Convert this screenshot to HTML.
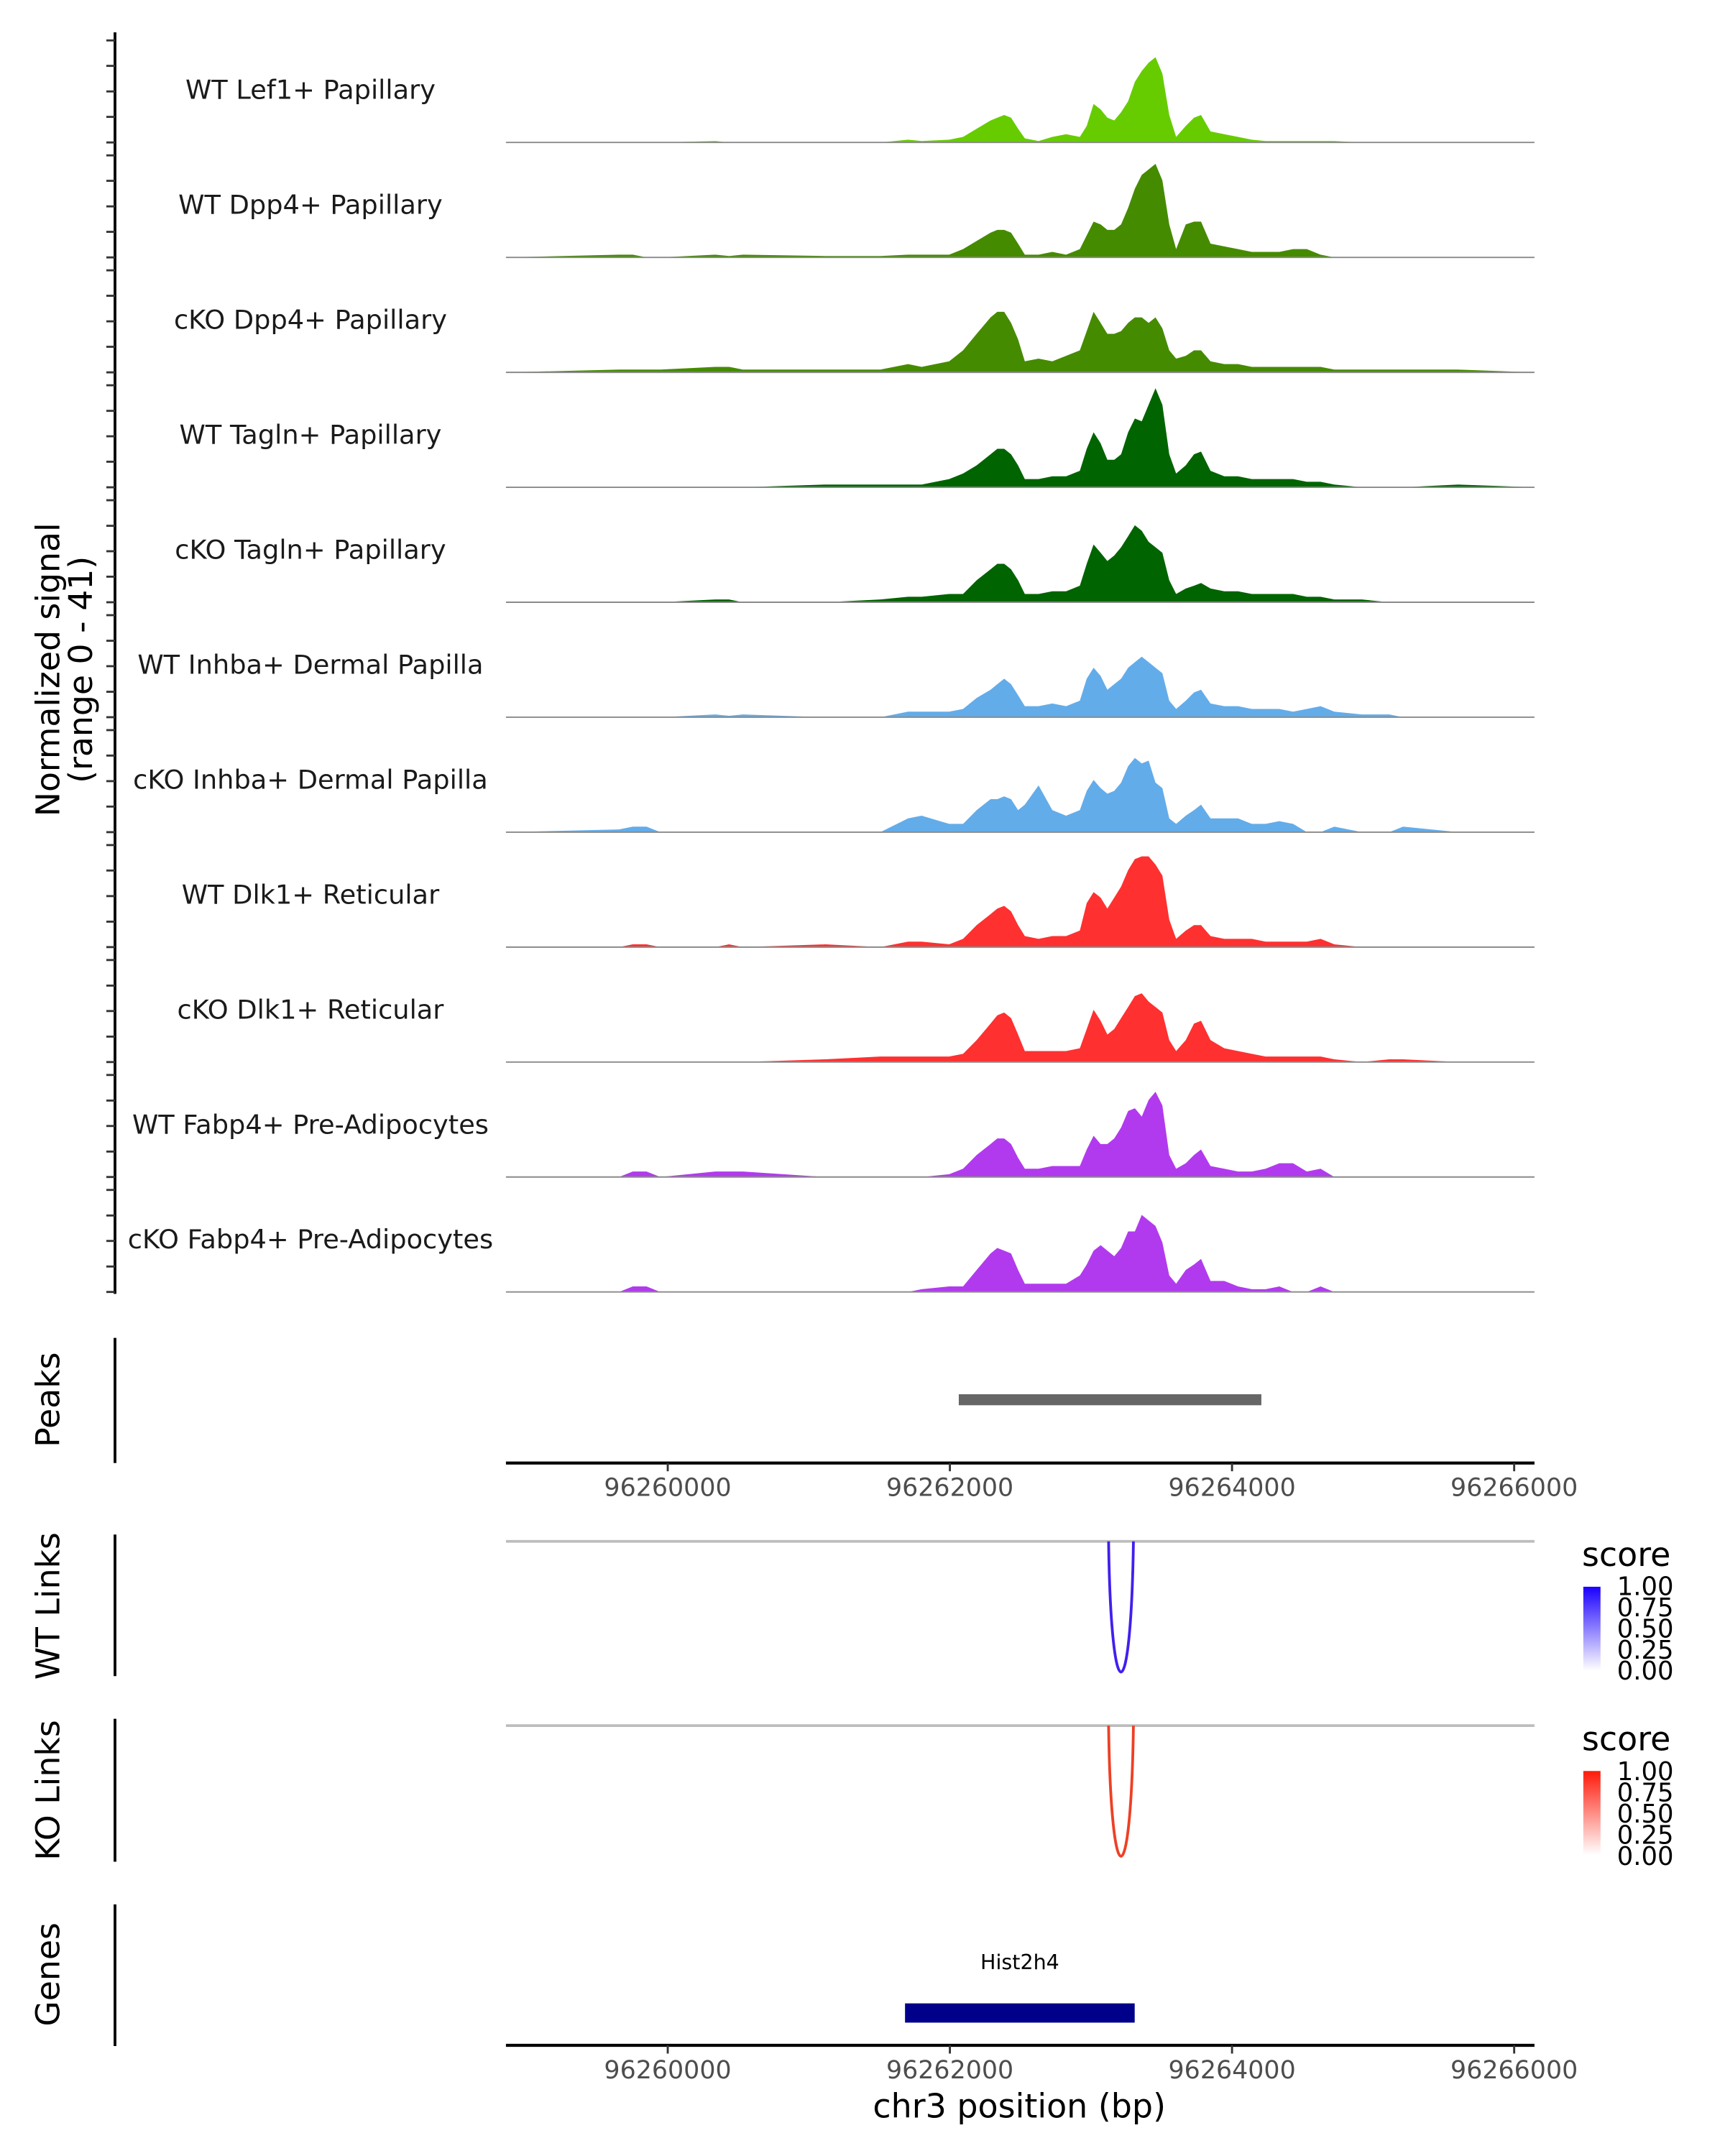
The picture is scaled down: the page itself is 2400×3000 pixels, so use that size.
<!DOCTYPE html>
<html><head><meta charset="utf-8"><style>
html,body{margin:0;padding:0;background:#fff}
svg{display:block;font-family:"DejaVu Sans","Liberation Sans",sans-serif}
</style></head><body>
<svg id="fig" width="2400" height="3000" viewBox="0 0 1254 1568" preserveAspectRatio="none" xmlns="http://www.w3.org/2000/svg">
<defs>
<linearGradient id="gBlue" x1="0" y1="1" x2="0" y2="0"><stop offset="0" stop-color="#ffffff"/><stop offset="1" stop-color="#1a00ff"/></linearGradient>
<linearGradient id="gRed" x1="0" y1="1" x2="0" y2="0"><stop offset="0" stop-color="#ffffff"/><stop offset="1" stop-color="#ff1a0a"/></linearGradient>
</defs>
<g id="tracks"></g>
<text transform="translate(43,487) rotate(-90)" text-anchor="middle" font-size="23.9" fill="#000">Normalized signal</text>
<text transform="translate(67,487) rotate(-90)" text-anchor="middle" font-size="23.9" fill="#000">(range 0 - 41)</text>
<line x1="83.6" y1="23.5" x2="83.6" y2="941" stroke="#000" stroke-width="2"/>
<g id="yticks"></g>

<text transform="translate(43,1018) rotate(-90)" text-anchor="middle" font-size="23.9">Peaks</text>
<line x1="83.6" y1="973" x2="83.6" y2="1064" stroke="#000" stroke-width="2"/>
<g id="peaks"></g>
<g id="xaxis1"></g>

<text transform="translate(43,1168) rotate(-90)" text-anchor="middle" font-size="23.9">WT Links</text>
<line x1="83.6" y1="1116" x2="83.6" y2="1219" stroke="#000" stroke-width="2"/>
<line x1="367.8" y1="1121" x2="1115.5" y2="1121" stroke="#bdbdbd" stroke-width="2"/>
<g id="wtlinks"></g>
<text x="1150" y="1139" font-size="24">score</text>
<rect x="1151" y="1154" width="12.5" height="61" fill="url(#gBlue)"/>
<g font-size="18.5">
<text x="1175.5" y="1160">1.00</text><text x="1175.5" y="1175.4">0.75</text><text x="1175.5" y="1190.8">0.50</text><text x="1175.5" y="1206.2">0.25</text><text x="1175.5" y="1221.6">0.00</text></g>

<text transform="translate(43,1302) rotate(-90)" text-anchor="middle" font-size="23.9">KO Links</text>
<line x1="83.6" y1="1250" x2="83.6" y2="1354" stroke="#000" stroke-width="2"/>
<line x1="367.8" y1="1255" x2="1115.5" y2="1255" stroke="#bdbdbd" stroke-width="2"/>
<g id="kolinks"></g>
<text x="1150" y="1273" font-size="24">score</text>
<rect x="1151" y="1288" width="12.5" height="61" fill="url(#gRed)"/>
<g font-size="18.5">
<text x="1175.5" y="1294.6">1.00</text><text x="1175.5" y="1310">0.75</text><text x="1175.5" y="1325.4">0.50</text><text x="1175.5" y="1340.8">0.25</text><text x="1175.5" y="1356.2">0.00</text></g>

<text transform="translate(43,1436) rotate(-90)" text-anchor="middle" font-size="23.9">Genes</text>
<line x1="83.6" y1="1385" x2="83.6" y2="1488" stroke="#000" stroke-width="2"/>
<g id="genes"></g>
<g id="xaxis2"></g>
<text x="741" y="1540" text-anchor="middle" font-size="24">chr3 position (bp)</text>
</svg>
<script>
const positions=[96258855,96259655,96259752,96259850,96259947,96260337,96260435,96260532,96261117,96261507,
96261703,96261800,96261995,96262093,96262190,96262288,96262336,96262385,96262434,96262483,
96262531,96262629,96262726,96262824,96262921,96262970,96263019,96263068,96263116,96263165,
96263214,96263263,96263311,96263360,96263409,96263458,96263506,96263555,96263604,96263672,
96263731,96263780,96263848,96263945,96264043,96264140,96264238,96264335,96264433,96264530,
96264628,96264725,96264920,96265115,96265213,96265603,96266139];
const trackNames=["WT Lef1+ Papillary","WT Dpp4+ Papillary","cKO Dpp4+ Papillary","WT Tagln+ Papillary","cKO Tagln+ Papillary","WT Inhba+ Dermal Papilla","cKO Inhba+ Dermal Papilla","WT Dlk1+ Reticular","cKO Dlk1+ Reticular","WT Fabp4+ Pre-Adipocytes","cKO Fabp4+ Pre-Adipocytes"];
const trackColors=["#66cc00","#458b00","#458b00","#006400","#006400","#63acea","#63acea","#ff3030","#ff3030","#b23aee","#b23aee"];
const sigLef1WT=[0,0,0,0,0,0.5,0,0,0,0, 1,0.5,1,2,5,8,9,10,9,5, 1.5,0.5,2,3,2,6,14,12,9,8, 11,15,22,26,29,31,25,10,2,6, 9,10,4,3,2,1,0.5,0.5,0.5,0.5, 0.5,0.5,0,0,0,0,0];
const sigDpp4WT=[0,1,1,0,0,1,0.5,1,0.5,0.5, 1,1,1,3,6,9,10,10,9,5, 1,1,2,1,3,8,13,12,10,10, 12,18,25,30,32,34,28,12,3,12, 13,13,5,4,3,2,2,2,3,3, 1,0,0,0,0,0,0];
const sigDpp4KO=[0,1,1,1,1,2,2,1,1,1, 3,2,4,8,14,20,22,22,18,12, 4,5,4,6,8,15,22,18,14,14, 15,18,20,20,18,20,16,8,5,6, 8,8,4,3,3,2,2,2,2,2, 2,1,1,1,1,1,0];
const sigTaglnWT=[0,0,0,0,0,0,0,0,1,1, 1,1,3,5,8,12,14,14,12,8, 3,3,4,4,6,14,20,16,10,10, 12,20,25,24,30,36,30,12,5,8, 12,13,6,4,4,3,3,3,3,2, 2,1,0,0,0,1,0];
const sigTaglnKO=[0,0,0,0,0,1,1,0,0,1, 2,2,3,3,8,12,14,14,12,8, 3,3,4,4,6,14,21,18,15,17, 20,24,28,26,22,20,18,8,3,5, 6,7,5,4,4,3,3,3,3,2, 2,1,1,0,0,0,0];
const sigInhbaWT=[0,0,0,0,0,1,0.5,1,0,0, 2,2,2,3,7,10,12,14,12,8, 4,4,5,4,6,14,18,15,10,12, 14,18,20,22,20,18,16,6,3,6, 9,10,5,4,4,3,3,3,2,3, 4,2,1,1,0,0,0];
const sigInhbaKO=[0,1,2,2,0,0,0,0,0,0, 5,6,3,3,8,12,12,13,12,8, 10,17,8,6,8,15,19,16,14,15, 18,24,27,25,26,18,16,5,3,6, 8,10,5,5,5,3,3,4,3,0, 0,2,0,0,2,0,0];
const sigDlk1WT=[0,0,1,1,0,0,1,0,1,0, 2,2,1,3,8,12,14,15,13,8, 4,3,4,4,6,16,20,18,14,18, 22,28,32,33,33,30,26,10,3,6, 8,8,4,3,3,3,2,2,2,2, 3,1,0,0,0,0,0];
const sigDlk1KO=[0,0,0,0,0,0,0,0,1,2, 2,2,2,3,8,14,17,18,16,10, 4,4,4,4,5,12,19,15,10,12, 16,20,24,25,22,20,18,8,4,8, 14,15,8,5,4,3,2,2,2,2, 2,1,0,1,1,0,0];
const sigFabp4WT=[0,0,2,2,0,2,2,2,0,0, 0,0,1,3,8,12,14,14,12,7, 3,3,4,4,4,10,15,12,12,14, 18,24,25,22,28,31,26,8,3,5, 8,10,4,3,2,2,3,5,5,2, 3,0,0,0,0,0,0];
const sigFabp4KO=[0,0,2,2,0,0,0,0,0,0, 0,1,2,2,8,14,16,15,14,8, 3,3,3,3,6,10,15,17,15,13, 16,22,22,28,26,24,18,6,3,8, 10,12,4,4,2,1,1,2,0,0, 2,0,0,0,0,0,0];
const signals=[sigLef1WT,sigDpp4WT,sigDpp4KO,sigTaglnWT,sigTaglnKO,sigInhbaWT,sigInhbaKO,sigDlk1WT,sigDlk1KO,sigFabp4WT,sigFabp4KO];
const xTicks=[96260000,96262000,96264000,96266000];
const peakRanges=[[96262063,96264208]];
const wtLinks=[[96263125,96263301,0.9]];
const koLinks=[[96263125,96263301,0.9]];
const geneName="Hist2h4";
const geneRange=[96261682,96263310];

const NS="http://www.w3.org/2000/svg";
const xMin=96258853,xMax=96266144,pxL=367.8,pxR=1115.5;
function xs(bp){return pxL+(bp-xMin)/(xMax-xMin)*(pxR-pxL);}
const yMaxVal=41,trackH=82,trackStep=83.6,firstBase=103.6;
function ys(base,v){return base-v/yMaxVal*trackH;}
function mk(tag,attrs,parent){const e=document.createElementNS(NS,tag);for(const k in attrs)e.setAttribute(k,attrs[k]);parent.appendChild(e);return e;}

const tracks=document.getElementById('tracks');
const yt=document.getElementById('yticks');
signals.forEach((sig,i)=>{
  const base=firstBase+i*trackStep;
  let d="M"+xs(positions[0]).toFixed(1)+","+base;
  sig.forEach((v,j)=>{d+=" L"+xs(positions[j]).toFixed(1)+","+ys(base,v).toFixed(1);});
  d+=" L"+xs(positions[positions.length-1]).toFixed(1)+","+base+" Z";
  const p=mk('path',{d:d,fill:trackColors[i]},tracks);
  
  
  const bl=mk('line',{x1:pxL,y1:base,x2:pxR,y2:base,stroke:'#8a8a8a','stroke-width':1},tracks);
  
  
  const t=mk('text',{x:225.7,y:base-31.6,'text-anchor':'middle','font-size':19.2,fill:'#1a1a1a'},tracks);
  t.textContent=trackNames[i];
  
  
  for(let k=0;k<=4;k++){
    const y=base-k*18.55;
    const tk=mk('line',{x1:77.3,y1:y.toFixed(1),x2:83.6,y2:y.toFixed(1),stroke:'#333','stroke-width':1.5},yt);
    
    
  }
});
const pk=document.getElementById('peaks');
peakRanges.forEach(r=>{
  const b=mk('rect',{x:xs(r[0]),y:1014,width:xs(r[1])-xs(r[0]),height:8,fill:'#666666'},pk);
  
  
});
function xAxis(id,y){
  const g=document.getElementById(id);
  const l=mk('line',{x1:pxL,y1:y,x2:pxR,y2:y,stroke:'#000','stroke-width':2.2},g);
  
  
  xTicks.forEach(t=>{
    const x=xs(t);
    const tk=mk('line',{x1:x,y1:y,x2:x,y2:y+6,stroke:'#333','stroke-width':1.5},g);
    
    
    const tx=mk('text',{x:x,y:y+24,'text-anchor':'middle','font-size':18.2,fill:'#4d4d4d'},g);
    tx.textContent=String(t);
    
    
  });
}
xAxis('xaxis1',1064);
xAxis('xaxis2',1487.5);
function drawLinks(id,links,base,depth,color){
  const g=document.getElementById(id);
  links.forEach(l=>{
    const a=xs(l[0]),b=xs(l[1]),w=b-a;
    const cy=base+depth*l[2]/0.9*4/3;
    const p=mk('path',{d:`M${a},${base} C${a+w*0.1},${cy} ${b-w*0.1},${cy} ${b},${base}`,fill:'none',stroke:color,'stroke-width':2},g);
    
    
  });
}
drawLinks('wtlinks',wtLinks,1121,95,'#4020ee');
drawLinks('kolinks',koLinks,1255,95,'#ee4025');
const gg=document.getElementById('genes');
const gt=mk('text',{x:(xs(geneRange[0])+xs(geneRange[1]))/2,y:1432,'text-anchor':'middle','font-size':14.9,fill:'#000'},gg);
gt.textContent=geneName;


const gb=mk('rect',{x:xs(geneRange[0]),y:1457,width:xs(geneRange[1])-xs(geneRange[0]),height:14,fill:'#00008b'},gg);


</script>
</body></html>
